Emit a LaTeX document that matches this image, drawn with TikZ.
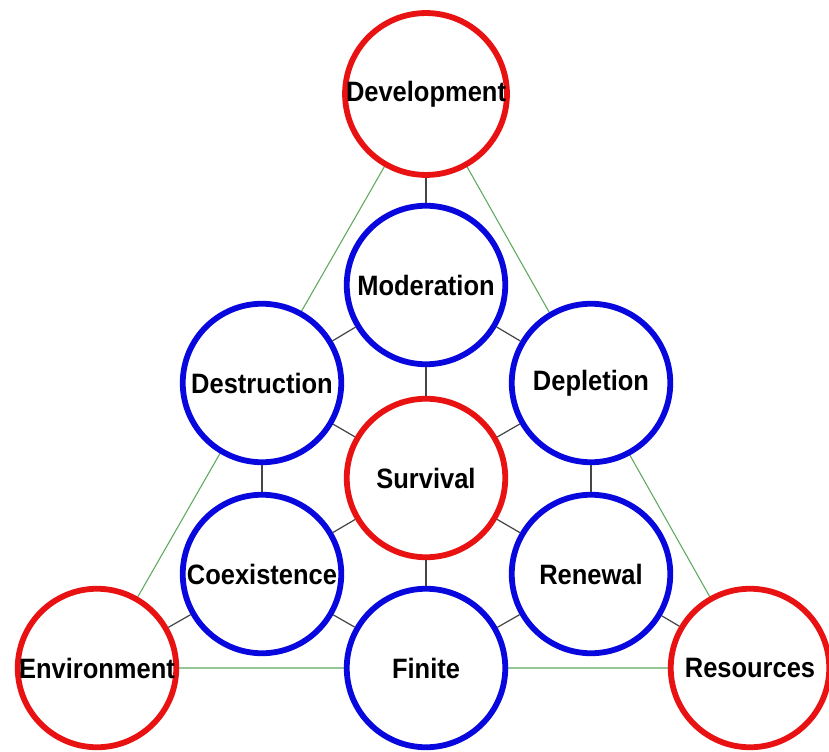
\documentclass[tikz,border=0pt]{standalone}
\usepackage{fontspec}
\setmainfont{Liberation Sans}
\usepackage{tikz}
\usetikzlibrary{calc}
\usetikzlibrary{positioning}
\definecolor{ringred}{RGB}{232,18,18}
\definecolor{ringblue}{RGB}{8,8,222}
\definecolor{edgegreen}{RGB}{92,168,92}
\definecolor{edgegray}{RGB}{70,70,70}
\newcommand{\tallword}[1]{\scalebox{1}[1.1]{#1}}
\tikzset{
  ring/.style={circle,draw,fill=white,line width=3.3pt,minimum size=3.17cm,
    inner sep=0pt,font=\fontsize{14.5}{16}\selectfont\bfseries},
  redring/.style={ring,draw=ringred},
  bluering/.style={ring,draw=ringblue},
  frame/.style={edgegreen,line width=0.6pt},
  link/.style={edgegray,line width=0.7pt}
}
\begin{document}
\begin{tikzpicture}
\useasboundingbox (0,0) rectangle (16.58,-15.02);
% The outer triangle is drawn first, the rings cover it
\coordinate (dev) at (8.52,-1.88);
\coordinate (env) at (1.94,-13.36);
\coordinate (res) at (15.0,-13.36);
\draw[frame] (dev) -- (env) -- (res) -- cycle;
%% Rings of the hexagon
\node[redring] (Dev) at (dev) {\tallword{Development}};
\node[bluering] (Mod) at (8.52,-5.7) {\tallword{Moderation}};
\node[bluering] (Des) at (5.24,-7.66) {\tallword{Destruction}};
\node[bluering] (Dep) at (11.82,-7.66) {\tallword{Depletion}};
\node[redring] (Sur) at (8.52,-9.56) {\tallword{Survival}};
\node[bluering] (Coe) at (5.24,-11.48) {\tallword{Coexistence}};
\node[bluering] (Ren) at (11.82,-11.48) {\tallword{Renewal}};
\node[bluering] (Fin) at (8.52,-13.36) {\tallword{Finite}};
\node[redring] (Env) at (env) {\tallword{Environment}};
\node[redring] (Res) at (res) {\tallword{Resources}};
%% Short links between neighbouring rings
\draw[link] (Dev) -- (Mod);
\draw[link] (Mod) -- (Des);
\draw[link] (Mod) -- (Dep);
\draw[link] (Mod) -- (Sur);
\draw[link] (Des) -- (Sur);
\draw[link] (Dep) -- (Sur);
\draw[link] (Des) -- (Coe);
\draw[link] (Dep) -- (Ren);
\draw[link] (Sur) -- (Coe);
\draw[link] (Sur) -- (Ren);
\draw[link] (Sur) -- (Fin);
\draw[link] (Coe) -- (Fin);
\draw[link] (Ren) -- (Fin);
\draw[link] (Coe) -- (Env);
\draw[link] (Ren) -- (Res);
\end{tikzpicture}
\end{document}
